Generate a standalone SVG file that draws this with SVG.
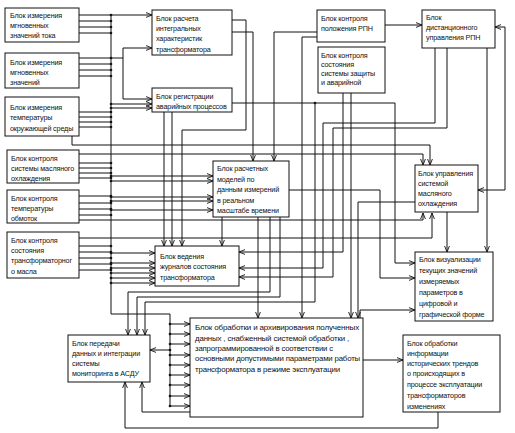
<svg xmlns="http://www.w3.org/2000/svg" width="515" height="433" viewBox="0 0 515 433">
<defs>
<style>
.b{fill:#fff;stroke:#111;stroke-width:1}
.t{font-family:"Liberation Sans",Arial,sans-serif;font-size:7.2px;letter-spacing:-0.15px;fill:#111}
.c{fill:none;stroke:#111;stroke-width:1}
.a{marker-end:url(#ar)}
.d{fill:#111}
</style>
<marker id="ar" viewBox="0 0 6 6" refX="6" refY="3" markerWidth="6" markerHeight="6" orient="auto" markerUnits="userSpaceOnUse"><path d="M0,0.6 L6,3 L0,5.4" fill="none" stroke="#111" stroke-width="0.9"/></marker>
</defs>
<rect width="515" height="433" fill="#fff"/>

<g id="connectors">
<path class="c" d="M111,15 V314 H170 V407"/>
<path class="c a" d="M79,15 H152"/>
<path class="c" d="M79,21 H111 M79,27 H111 M79,33 H111"/>
<path class="c" d="M79,58 H123"/>
<path class="c a" d="M123,58 V48 H152"/>
<path class="c a" d="M123,58 V99 H152"/>
<path class="c" d="M79,64 H111 M79,70 H111 M79,76 H111"/>
<path class="c" d="M79,112 H111 M79,117 H111 M79,122 H111 M79,127 H111"/>
<path class="c a" d="M72,136 V145 H430 V165"/>
<path class="c a" d="M111,104 H152"/>
<path class="c a" d="M111,108 H152"/>
<path class="c a" d="M79,154 H423 V165"/>
<path class="c" d="M79,163 H111 M79,168 H111 M79,173 H111 M79,178 H111"/>
<path class="c a" d="M111,176 H213"/>
<path class="c a" d="M111,181 H213"/>
<path class="c a" d="M111,197 H213"/>
<path class="c a" d="M111,201 H213"/>
<path class="c a" d="M111,210 H213"/>
<path class="c" d="M79,196 H111 M79,203 H111 M79,209 H111 M79,215 H111"/>
<path class="c a" d="M79,220 H423 V213"/>
<path class="c a" d="M79,238 H432 V213"/>
<path class="c" d="M79,246 H111 M79,252 H111 M79,258 H111 M79,264 H111 M79,270 H111"/>
<path class="c a" d="M111,253 H155"/>
<path class="c a" d="M111,263 H155"/>
<path class="c a" d="M111,268 H155"/>
<path class="c a" d="M111,273 H155"/>
<path class="c a" d="M111,278 H155"/>
<path class="c a" d="M111,283 H155"/>
<path class="c a" d="M170,324 H190"/>
<path class="c a" d="M170,334 H190"/>
<path class="c a" d="M170,344 H190"/>
<path class="c a" d="M170,355 H190"/>
<path class="c a" d="M170,365 H190"/>
<path class="c a" d="M170,375 H190"/>
<path class="c a" d="M170,385 H190"/>
<path class="c a" d="M170,396 H190"/>
<path class="c a" d="M170,406 H190"/>
<path class="c a" d="M170,350 H150"/>
<path class="c a" d="M232,20 H246 V130 H182 V246"/>
<path class="c a" d="M232,32 H253 V161"/>
<path class="c a" d="M317,32 H274 V161"/>
<path class="c a" d="M317,37 H302 V318"/>
<path class="c a" d="M385,25 H422"/>
<path class="c a" d="M343,93 V252 H239"/>
<path class="c a" d="M351,93 V318"/>
<path class="c a" d="M435,48 V123 H323 V268 H239"/>
<path class="c a" d="M447,48 V128 H333 V277 H239"/>
<path class="c a" d="M487,48 V252"/>
<path class="c a" d="M505,190 V27 H495"/>
<path class="c a" d="M505,190 H478"/>
<path class="c a" d="M232,103 H395 V263 H415"/>
<path class="c a" d="M164,112 V246"/>
<path class="c a" d="M172,112 V246"/>
<path class="c a" d="M222,217 V246"/>
<path class="c a" d="M289,190 H380 V278 H415"/>
<path class="c a" d="M258,217 V318"/>
<path class="c a" d="M270,217 V292 H128 V335"/>
<path class="c a" d="M280,217 V297 H137 V335"/>
<path class="c a" d="M315,103 V302 H145 V335"/>
<path class="c a" d="M415,202 H358 V318"/>
<path class="c a" d="M447,212 V252"/>
<path class="c a" d="M360,318 V310 H415"/>
<path class="c a" d="M363,360 H403"/>
<path class="c a" d="M190,412 H142 V382"/>
<path class="c a" d="M438,412 V428 H125 V382"/>
<g class="d">
<circle cx="111" cy="15" r="1.3"/><circle cx="111" cy="21" r="1.3"/><circle cx="111" cy="27" r="1.3"/><circle cx="111" cy="33" r="1.3"/>
<circle cx="111" cy="58" r="1.3"/><circle cx="111" cy="64" r="1.3"/><circle cx="111" cy="70" r="1.3"/><circle cx="111" cy="76" r="1.3"/>
<circle cx="111" cy="104" r="1.3"/><circle cx="111" cy="108" r="1.3"/><circle cx="111" cy="112" r="1.3"/><circle cx="111" cy="117" r="1.3"/><circle cx="111" cy="122" r="1.3"/><circle cx="111" cy="127" r="1.3"/>
<circle cx="111" cy="163" r="1.3"/><circle cx="111" cy="168" r="1.3"/><circle cx="111" cy="173" r="1.3"/><circle cx="111" cy="176" r="1.3"/><circle cx="111" cy="178" r="1.3"/><circle cx="111" cy="181" r="1.3"/>
<circle cx="111" cy="196" r="1.3"/><circle cx="111" cy="197" r="1.3"/><circle cx="111" cy="201" r="1.3"/><circle cx="111" cy="203" r="1.3"/><circle cx="111" cy="209" r="1.3"/><circle cx="111" cy="210" r="1.3"/><circle cx="111" cy="215" r="1.3"/>
<circle cx="111" cy="246" r="1.3"/><circle cx="111" cy="252" r="1.3"/><circle cx="111" cy="258" r="1.3"/><circle cx="111" cy="264" r="1.3"/><circle cx="111" cy="270" r="1.3"/>
<circle cx="111" cy="253" r="1.3"/><circle cx="111" cy="263" r="1.3"/><circle cx="111" cy="268" r="1.3"/><circle cx="111" cy="273" r="1.3"/><circle cx="111" cy="278" r="1.3"/><circle cx="111" cy="283" r="1.3"/>
<circle cx="170" cy="324" r="1.3"/><circle cx="170" cy="334" r="1.3"/><circle cx="170" cy="344" r="1.3"/><circle cx="170" cy="350" r="1.3"/><circle cx="170" cy="355" r="1.3"/><circle cx="170" cy="365" r="1.3"/><circle cx="170" cy="375" r="1.3"/><circle cx="170" cy="385" r="1.3"/><circle cx="170" cy="396" r="1.3"/><circle cx="170" cy="406" r="1.3"/>
<circle cx="315" cy="103" r="1.3"/>
</g>
</g>

<g id="n1"><rect class="b" x="5" y="8" width="74" height="34"/><text class="t" x="10" y="18">Блок  измерения</text><text class="t" x="10" y="28">мгновенных</text><text class="t" x="10" y="38">значений тока</text></g>
<g id="n2"><rect class="b" x="5" y="53" width="74" height="35"/><text class="t" x="10" y="65">Блок  измерения</text><text class="t" x="10" y="75">мгновенных</text><text class="t" x="10" y="85">значений</text></g>
<g id="n3"><rect class="b" x="5" y="97" width="74" height="39"/><text class="t" x="10" y="110">Блок измерения</text><text class="t" x="10" y="120">температуры</text><text class="t" x="10" y="131">окружающей среды</text></g>
<g id="n4"><rect class="b" x="7" y="150" width="72" height="33"/><text class="t" x="11" y="161">Блок контроля</text><text class="t" x="11" y="171">системы масляного</text><text class="t" x="11" y="181">охлаждения</text></g>
<g id="n5"><rect class="b" x="7" y="190" width="72" height="33"/><text class="t" x="11" y="201">Блок   контроля</text><text class="t" x="11" y="211">температуры</text><text class="t" x="11" y="221">обмоток</text></g>
<g id="n6"><rect class="b" x="7" y="232" width="72" height="46"/><text class="t" x="11" y="243">Блок контроля</text><text class="t" x="11" y="253">состояния</text><text class="t" x="11" y="263">трансформаторног</text><text class="t" x="11" y="274">о масла</text></g>
<g id="n7"><rect class="b" x="152" y="10" width="80" height="45"/><text class="t" x="156" y="21">Блок расчета</text><text class="t" x="156" y="31">интегральных</text><text class="t" x="156" y="41">характеристик</text><text class="t" x="156" y="52">трансформатора</text></g>
<g id="n8"><rect class="b" x="152" y="88" width="80" height="24"/><text class="t" x="156" y="99">Блок регистрации</text><text class="t" x="156" y="109">аварийных процессов</text></g>
<g id="n9"><rect class="b" x="317" y="10" width="68" height="32"/><text class="t" x="321" y="21">Блок контроля</text><text class="t" x="321" y="31">положения РПН</text></g>
<g id="n10"><rect class="b" x="318" y="47" width="67" height="46"/><text class="t" x="321" y="58">Блок контроля</text><text class="t" x="321" y="67">состояния</text><text class="t" x="321" y="76">системы защиты</text><text class="t" x="321" y="85">и аварийной</text></g>
<g id="n11"><rect class="b" x="422" y="10" width="73" height="38"/><text class="t" x="426" y="20">Блок</text><text class="t" x="426" y="30">дистанционного</text><text class="t" x="426" y="40">управления  РПН</text></g>
<g id="n12"><rect class="b" x="213" y="161" width="76" height="56"/><text class="t" x="217" y="171">Блок расчетных</text><text class="t" x="217" y="182">моделей   по</text><text class="t" x="217" y="192">данным измерений</text><text class="t" x="217" y="203">в реальном</text><text class="t" x="217" y="213">масштабе времени</text></g>
<g id="n13"><rect class="b" x="415" y="165" width="63" height="47"/><text class="t" x="418" y="176">Блок управления</text><text class="t" x="418" y="186">системой</text><text class="t" x="418" y="196">масляного</text><text class="t" x="418" y="206">охлаждения</text></g>
<g id="n14"><rect class="b" x="155" y="246" width="84" height="40"/><text class="t" x="160" y="259">Блок ведения</text><text class="t" x="160" y="269">журналов состояния</text><text class="t" x="160" y="280">трансформатора</text></g>
<g id="n15"><rect class="b" x="415" y="252" width="78" height="69"/><text class="t" x="419" y="262">Блок   визуализации</text><text class="t" x="419" y="273">текущих значений</text><text class="t" x="419" y="284">измеряемых</text><text class="t" x="419" y="295">параметров    в</text><text class="t" x="419" y="306">цифровой и</text><text class="t" x="419" y="317">графической форме</text></g>
<g id="n16"><rect class="b" x="68" y="335" width="82" height="47"/><text class="t" x="72" y="346">Блок передачи</text><text class="t" x="72" y="356">данных и интеграции</text><text class="t" x="72" y="366">системы</text><text class="t" x="72" y="376">мониторинга  в АСДУ</text></g>
<g id="n17"><rect class="b" x="190" y="318" width="173" height="99"/><text class="t" x="195" y="330" textLength="164" lengthAdjust="spacingAndGlyphs">Блок обработки   и архивирования полученных</text><text class="t" x="195" y="341" textLength="154" lengthAdjust="spacingAndGlyphs">данных , снабженный системой  обработки ,</text><text class="t" x="195" y="351" textLength="138" lengthAdjust="spacingAndGlyphs">запрограммированной  в соответствии с</text><text class="t" x="195" y="361" textLength="165" lengthAdjust="spacingAndGlyphs">основными допустимыми  параметрами работы</text><text class="t" x="195" y="372" textLength="145" lengthAdjust="spacingAndGlyphs">трансформатора в режиме эксплуатации</text></g>
<g id="n18"><rect class="b" x="403" y="335" width="97" height="77"/><text class="t" x="407" y="346">Блок обработки</text><text class="t" x="407" y="356">информации</text><text class="t" x="407" y="366">исторических трендов</text><text class="t" x="407" y="376">о происходящих в</text><text class="t" x="407" y="387">процессе эксплуатации</text><text class="t" x="407" y="398">трансформаторов</text><text class="t" x="407" y="409">изменениях</text></g>
</svg>
